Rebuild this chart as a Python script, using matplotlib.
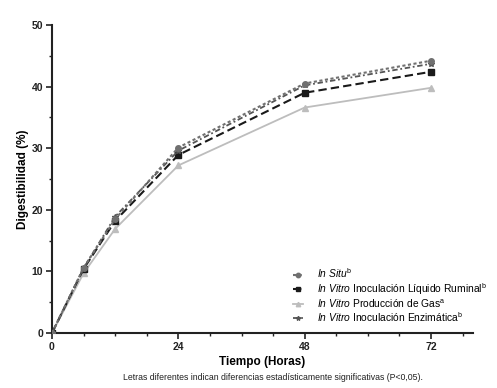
import matplotlib
matplotlib.use("Agg")
import matplotlib.pyplot as plt
from matplotlib.ticker import MultipleLocator

plt.rcParams['font.family'] = ['Liberation Sans', 'DejaVu Sans']
plt.rcParams['mathtext.fontset'] = 'custom'
plt.rcParams['mathtext.rm'] = 'Liberation Sans'
plt.rcParams['mathtext.it'] = 'Liberation Sans:italic'
plt.rcParams['mathtext.bf'] = 'Liberation Sans:bold'

hours = [0, 6, 12, 24, 48, 72]
in_situ = [0, 10.6, 18.5, 30.1, 40.5, 44.2]
liquido_ruminal = [0, 10.4, 18.2, 28.9, 39.0, 42.4]
produccion_gas = [0, 9.7, 16.9, 27.2, 36.6, 39.8]
inoculacion_enzimatica = [0, 10.5, 18.9, 29.6, 40.2, 43.7]

labels = [
    r'$\mathit{In\ Situ}^{\mathrm{b}}$',
    r'$\mathit{In\ Vitro}$ Inoculación Líquido Ruminal$^{\mathrm{b}}$',
    r'$\mathit{In\ Vitro}$ Producción de Gas$^{\mathrm{a}}$',
    r'$\mathit{In\ Vitro}$ Inoculación Enzimática$^{\mathrm{b}}$',
]

fig = plt.figure(figsize=(4.97, 3.88), dpi=100)
ax = fig.add_axes([0.1046, 0.1418, 0.8474, 0.7938])

ax.plot(hours, produccion_gas, color='#bdbdbd', lw=1.3, ls='-', marker='^', ms=4, label=labels[2], zorder=2)
ax.plot(hours, liquido_ruminal, color='#1a1a1a', lw=1.5, ls=(0, (4, 2)), marker='s', ms=4, label=labels[1], zorder=3)
ax.plot(hours, inoculacion_enzimatica, color='#555555', lw=1.3, ls=(0, (3, 1.5, 1, 1.5)), marker='*', ms=4, label=labels[3], zorder=4)
ax.plot(hours, in_situ, color='#707070', lw=1.5, ls=(0, (1.5, 1.2)), marker='o', ms=4, label=labels[0], zorder=5)

ax.set_xlim(0, 80)
ax.set_ylim(0, 50)
ax.xaxis.set_major_locator(MultipleLocator(24))
ax.xaxis.set_minor_locator(MultipleLocator(6))
ax.yaxis.set_major_locator(MultipleLocator(10))
ax.yaxis.set_minor_locator(MultipleLocator(5))

for s in ['top', 'right']:
    ax.spines[s].set_visible(False)
for s in ['left', 'bottom']:
    ax.spines[s].set_linewidth(1.5)
    ax.spines[s].set_color('#222222')

ax.tick_params(which='major', direction='out', length=4, width=1.2, colors='#222222', labelsize=7.5, pad=2.5)
ax.tick_params(which='minor', direction='out', length=2.5, width=1.0, colors='#222222')
for lbl in ax.get_xticklabels() + ax.get_yticklabels():
    lbl.set_fontweight('bold')

ax.set_xlabel('Tiempo (Horas)', fontsize=8.5, fontweight='bold', labelpad=3)
ax.set_ylabel('Digestibilidad (%)', fontsize=8.5, fontweight='bold', labelpad=2)

handles, lbls = ax.get_legend_handles_labels()
order = [3, 1, 0, 2]
leg = fig.legend([handles[i] for i in order], [lbls[i] for i in order],
                 loc='lower left', bbox_to_anchor=(293 / 497, 1 - 324 / 388),
                 bbox_transform=fig.transFigure, frameon=False,
                 fontsize=7.4, handlelength=1.0, handletextpad=1.3, labelspacing=0.05,
                 borderpad=0, borderaxespad=0, markerscale=0.8)

fig.text(0.55, 0.028, 'Letras diferentes indican diferencias estadísticamente significativas (P<0,05).',
         ha='center', va='center', fontsize=6.3, color='#222222')

fig.savefig('out.png', dpi=100)
